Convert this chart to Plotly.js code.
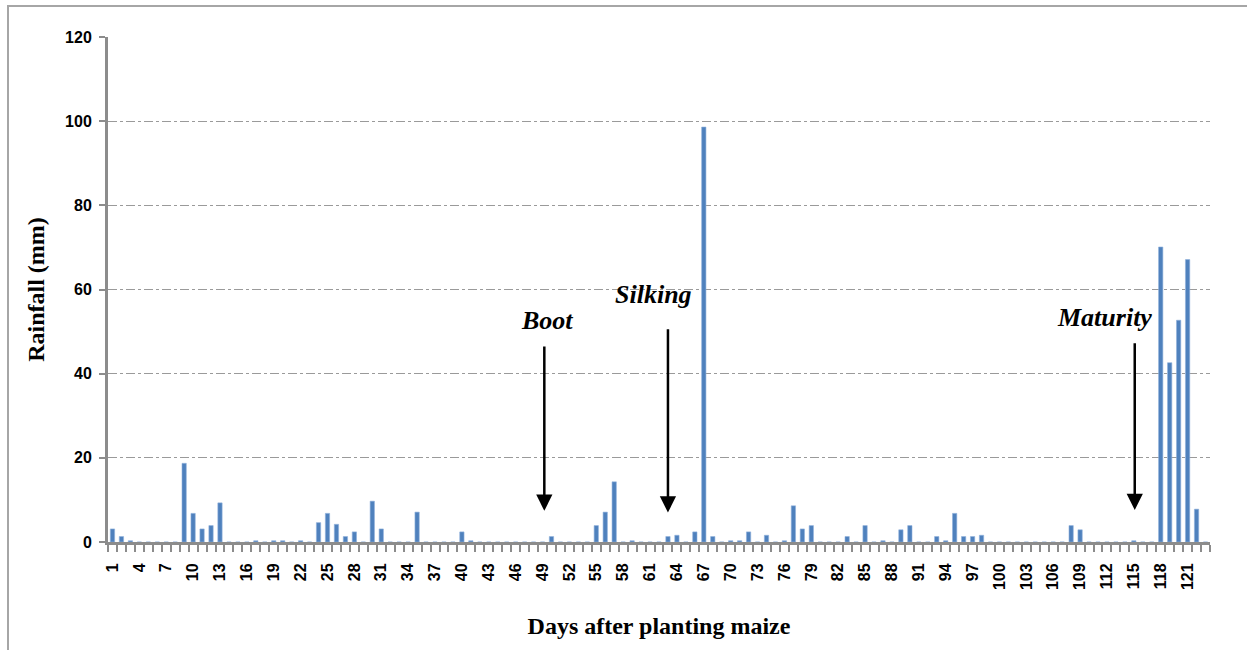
<!DOCTYPE html>
<html>
<head>
<meta charset="utf-8">
<script src="https://cdn.plot.ly/plotly-3.0.1.min.js"></script>
<style>
  html, body { margin: 0; padding: 0; background: #ffffff; }
  #chart { width: 1247px; height: 650px; position: absolute; left: 0; top: 0; }
  #frame { position: absolute; left: 7px; top: 5px; width: 1400px; height: 800px;
           border-left: 2px solid #a6a6a6; border-top: 2px solid #a6a6a6; pointer-events: none; }
</style>
</head>
<body>
<div id="chart"></div>
<div id="frame"></div>
<script>
// Daily rainfall (mm), day 1 .. day 123 after planting
const rainfall = [
  3.1, 1.3, 0.3, 0, 0, 0, 0, 0, 18.7, 6.8,
  3.1, 3.9, 9.3, 0, 0, 0, 0.3, 0, 0.3, 0.3,
  0, 0.3, 0, 4.6, 6.8, 4.2, 1.3, 2.4, 0, 9.7,
  3.1, 0, 0, 0, 7.1, 0, 0, 0, 0, 2.4,
  0.3, 0, 0, 0, 0, 0, 0, 0, 0, 1.3,
  0, 0, 0, 0, 3.9, 7.1, 14.3, 0, 0.3, 0,
  0, 0, 1.3, 1.6, 0, 2.4, 98.6, 1.3, 0, 0.3,
  0.3, 2.4, 0, 1.6, 0, 0.3, 8.6, 3.1, 3.9, 0,
  0, 0, 1.3, 0, 3.9, 0, 0.3, 0, 2.9, 3.9,
  0, 0, 1.3, 0.3, 6.8, 1.3, 1.3, 1.6, 0, 0,
  0, 0, 0, 0, 0, 0, 0, 3.9, 2.9, 0,
  0, 0, 0, 0, 0.3, 0, 0, 70.1, 42.6, 52.7,
  67.1, 7.8, 0
];
const days = rainfall.map((_, i) => i + 1);

const xTickVals = [1, 4, 7, 10, 13, 16, 19, 22, 25, 28, 31, 34, 37, 40, 43, 46, 49, 52, 55, 58,
  61, 64, 67, 70, 73, 76, 79, 82, 85, 88, 91, 94, 97, 100, 103, 106, 109, 112, 115, 118, 121];
const yTickVals = [0, 20, 40, 60, 80, 100, 120];

// Growth stage markers: label, arrow day, arrow top/bottom (mm), label position
const stageNames = ["Boot", "Silking", "Maturity"];
const stageArrowDay = [49.2, 63.0, 115.1];
const stageArrowTop = [46.8, 50.9, 47.6];
const stageArrowTip = [7.4, 7.0, 7.6];
const stageLabelDay = [49.5, 61.4, 111.7];
const stageLabelY = [52.6, 58.7, 53.4];

const serif = "Liberation Serif, Times New Roman, serif";
const sans = "Liberation Sans, Arial, sans-serif";

const trace = {
  type: "bar",
  x: days,
  y: rainfall,
  marker: { color: "#4F81BD", line: { color: "#8fb0dc", width: 0.6 } },
  hoverinfo: "x+y"
};

const annotations = [];
stageNames.forEach((name, i) => {
  annotations.push({
    x: stageArrowDay[i], y: stageArrowTip[i], xref: "x", yref: "y",
    ax: stageArrowDay[i], ay: stageArrowTop[i], axref: "x", ayref: "y",
    showarrow: true, arrowhead: 2, arrowsize: 1.3, arrowwidth: 2.5, arrowcolor: "#000000",
    text: ""
  });
  annotations.push({
    x: stageLabelDay[i], y: stageLabelY[i], xref: "x", yref: "y",
    showarrow: false, text: "<b><i>" + name + "</i></b>",
    font: { family: serif, size: 26, color: "#000000" },
    xanchor: "center", yanchor: "middle"
  });
});

const layout = {
  width: 1247, height: 650,
  margin: { l: 108, r: 37, t: 37, b: 108 },
  paper_bgcolor: "rgba(0,0,0,0)",
  plot_bgcolor: "#ffffff",
  showlegend: false,
  bargap: 0.52,
  xaxis: {
    range: [0.5, 123.5],
    tickmode: "array", tickvals: xTickVals, ticktext: xTickVals.map(String),
    tickangle: -90,
    ticks: "", ticklen: 0,
    ticklabelstandoff: 12,
    tickfont: { family: sans, size: 16, color: "#000000", weight: "bold" },
    showline: true, linecolor: "#8c8c8c", linewidth: 3,
    showgrid: false, zeroline: false,
    minor: { tick0: 0.5, dtick: 1, ticks: "outside", ticklen: 7, tickwidth: 2, tickcolor: "#8c8c8c", showgrid: false },
    title: { text: "<b>Days after planting maize</b>", font: { family: serif, size: 24, color: "#000000" }, standoff: 29 },
    automargin: false
  },
  yaxis: {
    range: [0, 120],
    tickmode: "array", tickvals: yTickVals,
    ticks: "outside", ticklen: 6, tickwidth: 2, tickcolor: "#8c8c8c",
    ticklabelstandoff: 4,
    tickfont: { family: sans, size: 16, color: "#000000", weight: "bold" },
    showline: true, linecolor: "#8c8c8c", linewidth: 3,
    showgrid: true, gridcolor: "#9a9a9a", gridwidth: 1, griddash: "dashdot",
    zeroline: false,
    title: { text: "<b>Rainfall (mm)</b>", font: { family: serif, size: 24, color: "#000000" }, standoff: 14 },
    automargin: false
  },
  shapes: [
    { type: "rect", layer: "below", xref: "x", yref: "y", x0: 56.9, x1: 66.3, y0: 58.5, y1: 61.5,
      fillcolor: "#ffffff", line: { width: 0 } },
    { type: "rect", layer: "below", xref: "x", yref: "y", x0: 104.0, x1: 120.0, y0: 58.5, y1: 61.5,
      fillcolor: "#ffffff", line: { width: 0 } }
  ],
  annotations: annotations
};

Plotly.newPlot("chart", [trace], layout, { displayModeBar: false, staticPlot: true });
</script>
</body>
</html>
